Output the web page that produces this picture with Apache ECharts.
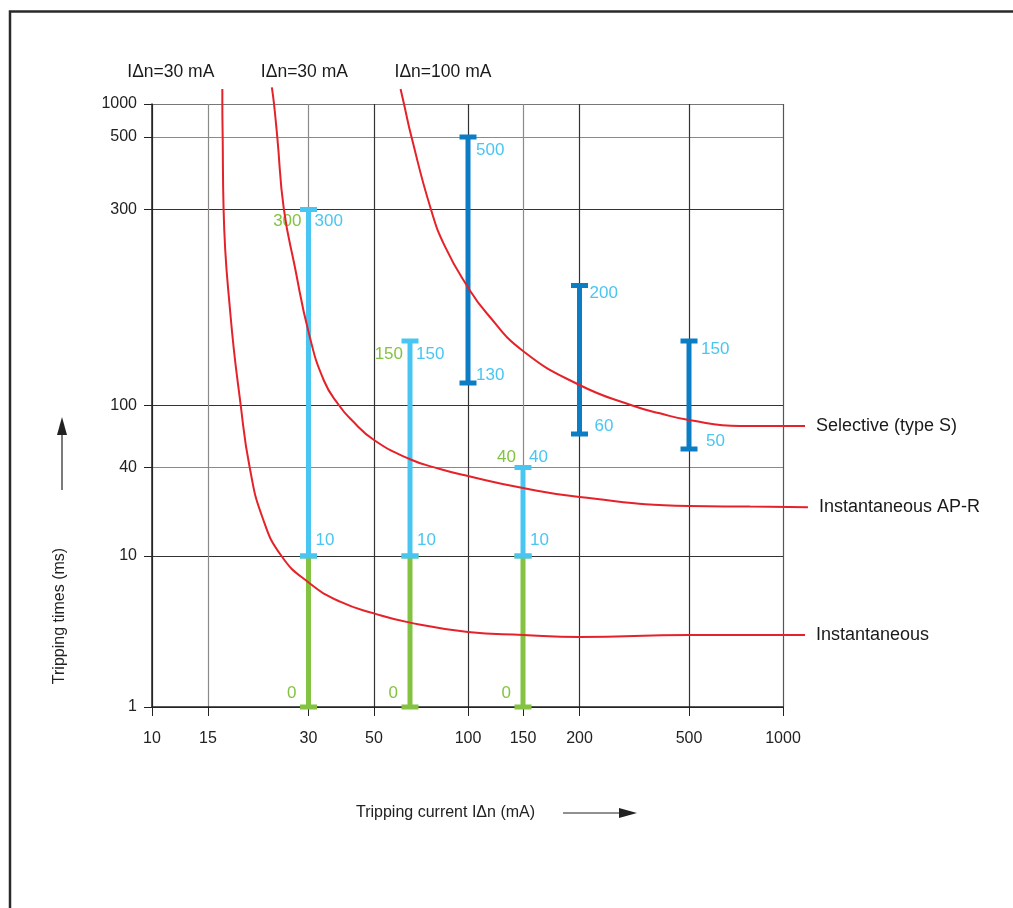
<!DOCTYPE html>
<html>
<head>
<meta charset="utf-8">
<title>Tripping curves</title>
<script src="https://cdn.jsdelivr.net/npm/echarts@6/dist/echarts.min.js"></script>
<style>
  html, body { margin: 0; padding: 0; background: #fff; }
  #chart { width: 1013px; height: 908px; }
</style>
</head>
<body>
<div id="chart"></div>
<script>
// ---- data ----
const xTicks = [10, 15, 30, 50, 100, 150, 200, 500, 1000];
const yTicks = [1, 10, 40, 100, 300, 500, 1000];

const curveNames = ['Instantaneous', 'Instantaneous AP-R', 'Selective (type S)'];
const curveNotes = ['IΔn=30 mA', 'IΔn=30 mA', 'IΔn=100 mA'];

// [current mA, time ms]
const instantaneous = [[16.56, 1370], [16.56, 1000], [16.6, 497], [16.7, 302], [17.5, 173], [18.8, 100],
  [20, 40], [21.8, 18.5], [24.9, 10], [30.1, 6.65], [38.4, 4.98], [50, 4.17], [60, 3.62],
  [100, 3.14], [150, 3.0], [200, 2.91], [500, 3.0], [1176, 3.0]];
const instantaneousAPR = [[23.3, 1420], [23.65, 1000], [24.2, 497], [25.3, 302], [27.3, 221], [30.1, 156],
  [33.85, 131], [38.1, 100], [42, 77.1], [50, 55.8], [60, 44.2], [78.1, 39.1], [100, 35],
  [150, 29], [200, 25.2], [500, 21.9], [784, 21.7], [1202, 21.5]];
const selective = [[57.2, 1370], [58.2, 1000], [60.9, 497], [72, 302], [81.7, 246], [99.5, 199],
  [115, 173], [150, 145], [200, 127], [311, 100], [392, 86.9], [500, 77.1], [728, 69.3], [1176, 69.3]];

// IΔn = 30 mA devices, tested at IΔn, 2IΔn, 5IΔn
const testCurrents = [30, 60, 150];
const startTimes = [0, 0, 0];
const minTimes = [10, 10, 10];
const maxTimes = [300, 150, 40];
// selective, IΔn = 100 mA
const selCurrents = [100, 200, 500];
const selMin = [130, 60, 50];
const selMax = [500, 200, 150];

// ---- axis calibration (the printed axes are hand spaced, neither linear nor log) ----
const xScale = [[10, 0], [15, 56], [30, 156.5], [50, 222], [60, 258], [100, 316], [150, 371],
  [200, 427.5], [500, 537], [1000, 631]];
const yScale = [[1, 0], [10, 151], [40, 239.5], [50, 258], [60, 273], [100, 301.5], [130, 324],
  [150, 366], [200, 421.5], [300, 497.5], [500, 570], [1000, 603]];

function warp(stops, v) {
  if (v <= stops[0][0]) return stops[0][1];
  let i = 1;
  while (i < stops.length - 1 && v > stops[i][0]) i++;
  const [v0, p0] = stops[i - 1], [v1, p1] = stops[i];
  return p0 + (p1 - p0) * Math.log(v / v0) / Math.log(v1 / v0);
}
const tx = v => warp(xScale, v);
const ty = v => warp(yScale, v);

const FONT = "'Liberation Sans', Arial, Helvetica, sans-serif";
const RED = '#e52229';
const LIGHT = '#48c6f1';
const GREEN = '#83c341';
const DARK = '#0a7dc4';

const xPos = xTicks.map(tx);
const yPos = yTicks.map(ty);
const tickName = (pos, ticks) => v => {
  const i = pos.findIndex(p => Math.abs(p - v) < 0.01);
  return i >= 0 ? String(ticks[i]) : '';
};

// the curves run past the 1000 mA line, so they sit on a wider twin grid with the same scale
const X_EXTRA = 40;

function curve(name, note, pts, noteAlign, noteOffset) {
  const data = pts.map(([x, y]) => [tx(x), ty(y)]);
  data[0] = {
    value: data[0],
    label: {
      show: true, formatter: note, position: 'top', align: noteAlign, offset: noteOffset,
      fontFamily: FONT, fontSize: 17.5, color: '#1a1a1a'
    }
  };
  return {
    type: 'line', name, data, z: 5, clip: false, silent: true,
    xAxisIndex: 1, yAxisIndex: 1,
    smooth: 0.5, symbol: 'circle', symbolSize: 0, showSymbol: true,
    lineStyle: { color: RED, width: 2 },
    itemStyle: { color: RED },
    endLabel: { show: true, formatter: '{a}', distance: 11, fontFamily: FONT, fontSize: 18, color: '#1a1a1a' },
    emphasis: { disabled: true }
  };
}

const pick = (v, i) => Array.isArray(v) ? v[i] : v;

function errorBars(name, color, xs, lows, highs, labels) {
  return {
    type: 'custom', name, z: 3, silent: true,
    data: xs.map((x, i) => [x, lows[i], highs[i]]),
    renderItem(params, api) {
      const i = params.dataIndex;
      const x = api.value(0), lo = api.value(1), hi = api.value(2);
      const top = api.coord([tx(x), ty(hi)]);
      const bot = api.coord([tx(x), ty(lo)]);
      const children = [
        { type: 'line', shape: { x1: top[0], y1: top[1], x2: bot[0], y2: bot[1] }, style: { stroke: color, lineWidth: 5 } },
        { type: 'rect', shape: { x: top[0] - 8.5, y: top[1] - 2.5, width: 17, height: 5 }, style: { fill: color } },
        { type: 'rect', shape: { x: bot[0] - 8.5, y: bot[1] - 2.5, width: 17, height: 5 }, style: { fill: color } }
      ];
      labels.forEach(l => {
        const p = l.at === 'hi' ? top : bot;
        children.push({
          type: 'text', x: p[0] + pick(l.dx, i), y: p[1] + pick(l.dy, i),
          style: {
            text: String(l.at === 'hi' ? hi : lo), fill: l.color, align: l.align || 'left',
            verticalAlign: 'middle', fontFamily: FONT, fontSize: 17
          }
        });
      });
      return { type: 'group', children };
    }
  };
}

const chart = echarts.init(document.getElementById('chart'));
chart.setOption({
  animation: false,
  backgroundColor: '#fff',
  grid: [
    { left: 152, top: 104, width: 631, height: 603 },
    { left: 152, top: 104, width: 631 + X_EXTRA, height: 603 }
  ],
  xAxis: [{
    type: 'value', min: 0, max: 631,
    axisLine: { show: true, lineStyle: { color: '#222', width: 1.5 } },
    axisTick: { show: true, customValues: xPos, length: 9, lineStyle: { color: '#222' } },
    axisLabel: {
      customValues: xPos, formatter: tickName(xPos, xTicks), margin: 24,
      fontFamily: FONT, fontSize: 16, color: '#222'
    },
    splitLine: {
      show: true,
      lineStyle: { color: ['#333', '#8a8a8a', '#8a8a8a', '#333', '#333', '#8a8a8a', '#333', '#333', '#555'], width: 1.2 }
    }
  }, {
    type: 'value', gridIndex: 1, min: 0, max: 631 + X_EXTRA, show: false
  }],
  yAxis: [{
    type: 'value', min: 0, max: 603,
    axisLine: { show: true, lineStyle: { color: '#222', width: 1.5 } },
    axisTick: { show: true, customValues: yPos, length: 8, lineStyle: { color: '#222' } },
    axisLabel: {
      customValues: yPos, formatter: tickName(yPos, yTicks), margin: 15,
      fontFamily: FONT, fontSize: 16, color: '#222'
    },
    splitLine: {
      show: true,
      lineStyle: { color: ['#333', '#333', '#8a8a8a', '#333', '#333', '#8a8a8a', '#777'], width: 1.2 }
    }
  }, {
    type: 'value', gridIndex: 1, min: 0, max: 603, show: false
  }],
  series: [
    errorBars('Non-tripping', GREEN, testCurrents, startTimes, minTimes, [
      { at: 'lo', dx: -12, dy: -14, color: GREEN, align: 'right' }
    ]),
    errorBars('Tripping IΔn = 30 mA', LIGHT, testCurrents, minTimes, maxTimes, [
      { at: 'hi', dx: 6, dy: [12, 13, -10], color: LIGHT },
      { at: 'hi', dx: -7, dy: [12, 13, -10], color: GREEN, align: 'right' },
      { at: 'lo', dx: 7, dy: -16, color: LIGHT }
    ]),
    errorBars('Selective IΔn = 100 mA', DARK, selCurrents, selMin, selMax, [
      { at: 'hi', dx: [8, 10, 12], dy: [13, 8, 8], color: LIGHT },
      { at: 'lo', dx: [8, 15, 17], dy: -8, color: LIGHT }
    ]),
    curve(curveNames[0], curveNotes[0], instantaneous, 'right', [-8, -3]),
    curve(curveNames[1], curveNotes[1], instantaneousAPR, 'left', [-11, -1]),
    curve(curveNames[2], curveNotes[2], selective, 'left', [-6, -3])
  ],
  graphic: [
    { type: 'polyline', shape: { points: [[10, 910], [10, 11.5], [1015, 11.5]] }, style: { stroke: '#2a2a2a', lineWidth: 2.5, fill: null } },
    { type: 'text', x: 356, y: 813, style: { text: 'Tripping current IΔn (mA)', fontFamily: FONT, fontSize: 16, fill: '#222', verticalAlign: 'middle' } },
    { type: 'line', shape: { x1: 563, y1: 813, x2: 622, y2: 813 }, style: { stroke: '#222', lineWidth: 1.2 } },
    { type: 'polygon', shape: { points: [[619, 808], [637, 813], [619, 818]] }, style: { fill: '#222' } },
    { type: 'text', x: 60, y: 616, rotation: Math.PI / 2, style: { text: 'Tripping times (ms)', fontFamily: FONT, fontSize: 16, fill: '#222', align: 'center', verticalAlign: 'middle' } },
    { type: 'line', shape: { x1: 62, y1: 490, x2: 62, y2: 432 }, style: { stroke: '#222', lineWidth: 1.2 } },
    { type: 'polygon', shape: { points: [[57, 435], [62, 417], [67, 435]] }, style: { fill: '#222' } }
  ]
});
</script>
</body>
</html>
